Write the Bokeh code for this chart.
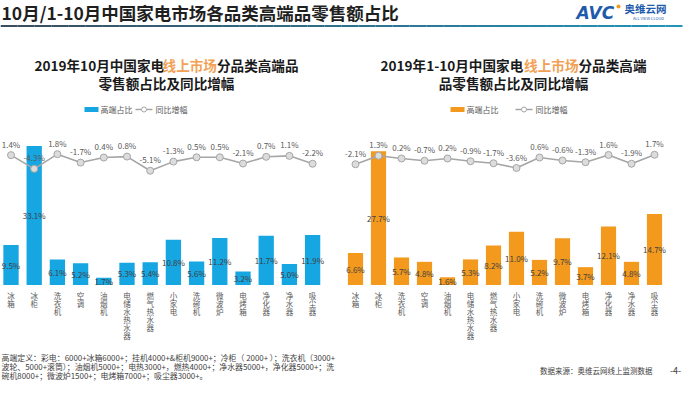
from bokeh.plotting import figure
from bokeh.models import Range1d
from bokeh.core.properties import value
from bokeh.embed import file_html
from bokeh.resources import INLINE

# ---------------- data ----------------
categories = ["冰箱", "冰柜", "洗衣机", "空调", "油烟机", "电储水热水器", "燃气热水器",
              "小家电", "洗碗机", "微波炉", "电烤箱", "净化器", "净水器", "吸尘器"]
oct_share = [9.5, 33.1, 6.1, 5.2, 1.7, 5.3, 5.4, 10.8, 5.6, 11.2, 3.2, 11.7, 5.0, 11.9]
oct_growth = [1.4, -4.3, 1.8, -1.7, 0.4, 0.8, -5.1, -1.3, 0.5, 0.5, -2.1, 0.7, 1.1, -2.2]
ytd_share = [6.6, 27.7, 5.7, 4.8, 1.6, 5.3, 8.2, 11.0, 5.2, 9.7, 3.7, 12.1, 4.8, 14.7]
ytd_growth = [-2.1, 1.3, 0.2, -0.7, 0.2, -0.9, -1.7, -3.6, 0.6, -0.6, -1.3, 1.6, -1.9, 1.7]

main_title = "10月/1-10月中国家电市场各品类高端品零售额占比"
left_title = [["2019年10月中国家电", "线上市场", "分品类高端品"], ["零售额占比及同比增幅"]]
right_title = [["2019年1-10月中国家电", "线上市场", "分品类高端"], ["品零售额占比及同比增幅"]]
legend_bar = "高端占比"
legend_line = "同比增幅"
footer_lines = [
    "高端定义：彩电：6000+冰箱6000+；挂机4000+&柜机9000+；冷柜（ 2000+ ）；洗衣机（3000+",
    "波轮、5000+滚筒）；油烟机5000+；电热3000+，燃热4000+；净水器5000+，净化器5000+；洗",
    "碗机8000+；微波炉1500+；电烤箱7000+；吸尘器3000+。",
]
source_text = "数据来源：奥维云网线上监测数据"
page_text = "-4-"

# ---------------- styles ----------------
FONT = value("Noto Sans CJK SC")
BLUE = "#16A6E2"
ORANGE = "#F39A1E"
HILITE = "#F2A154"
LINE_C = "#A6A6A6"
MARK_F = "#DCDCDC"

W, H = 684, 381
X0, Y0 = 8, 8          # page offset of the canvas
X1, Y1 = X0 + W, Y0 + H

p = figure(width=W, height=H, output_backend="svg", toolbar_location=None,
           x_range=Range1d(X0, X1), y_range=Range1d(Y1, Y0),
           min_border=0, outline_line_color=None, background_fill_color="white")
p.axis.visible = False
p.grid.visible = False


def x_range_for(px0, step):
    return Range1d((X0 - px0) / step, (X1 - px0) / step)


def y_range_for(py0, k):
    return Range1d((py0 - Y1) / k, (py0 - Y0) / k)


panels = [
    dict(name="L", px0=18.5, step=23.2, bar_py0=292.5, bar_k=4.2, line_py0=166.0, line_k=2.4,
         share=oct_share, growth=oct_growth, color=BLUE, title=left_title, tcx=174,
         leg_x=92),
    dict(name="R", px0=363.0, step=23.0, bar_py0=292.5, bar_k=4.83, line_py0=166.5, line_k=2.5,
         share=ytd_share, growth=ytd_growth, color=ORANGE, title=right_title, tcx=521,
         leg_x=458),
]

idx = list(range(len(categories)))

for pn in panels:
    xr = pn["name"] + "x"
    yb = pn["name"] + "b"
    yl = pn["name"] + "l"
    p.extra_x_ranges[xr] = x_range_for(pn["px0"], pn["step"])
    p.extra_y_ranges[yb] = y_range_for(pn["bar_py0"], pn["bar_k"])
    p.extra_y_ranges[yl] = y_range_for(pn["line_py0"], pn["line_k"])

    # bars
    p.vbar(x=idx, top=pn["share"], bottom=0, width=0.66, fill_color=pn["color"],
           line_color=None, x_range_name=xr, y_range_name=yb)
    # bar labels (centre of bar)
    p.text(x=idx, y=[v / 2 for v in pn["share"]], text=[f"{v:.1f}%" for v in pn["share"]],
           text_font=FONT, text_font_size="8px", text_color="#404040",
           text_align="center", text_baseline="middle", x_range_name=xr, y_range_name=yb)
    # growth line
    p.line(x=idx, y=pn["growth"], line_color=LINE_C, line_width=1.6,
           x_range_name=xr, y_range_name=yl)
    p.scatter(x=idx, y=pn["growth"], marker="circle", size=7, fill_color=MARK_F,
              line_color=LINE_C, line_width=1, x_range_name=xr, y_range_name=yl)
    lab_off = 11.0 / pn["line_k"]
    p.text(x=idx, y=[g + lab_off for g in pn["growth"]],
           text=[f"{g:.1f}%" for g in pn["growth"]],
           text_font=FONT, text_font_size="8px", text_color="#595959",
           text_align="center", text_baseline="middle", x_range_name=xr, y_range_name=yl)

    # category labels, stacked vertically
    cx, cy, ct = [], [], []
    for i, name in enumerate(categories):
        for k, ch in enumerate(name):
            cx.append(i)
            cy.append(303 + 8 * k)
            ct.append(ch)
    p.text(x=cx, y=cy, text=ct, text_font=FONT, text_font_size="7.5px",
           text_color="#595959", text_align="center", text_baseline="middle",
           x_range_name=xr)

    # title (two lines, middle part highlighted on first line)
    for li, parts in enumerate(pn["title"]):
        ty = 72 + 18 * li
        fs = 13.6

        def wid(s):
            return sum(0.57 if ord(c) < 128 else 1.0 for c in s) * fs
        total = sum(wid(s) for s in parts)
        x = pn["tcx"] - total / 2
        for j, s in enumerate(parts):
            col = HILITE if (li == 0 and j == 1) else "#1A1A1A"
            p.text(x=[x], y=[ty], text=[s], text_font=FONT, text_font_size=f"{fs}px",
                   text_font_style="bold", text_color=col, text_align="left",
                   text_baseline="middle")
            x += wid(s)

    # legend
    lx = pn["leg_x"]
    p.rect(x=[lx + 7], y=[117], width=14, height=5, fill_color=pn["color"], line_color=None)
    p.text(x=[lx + 16], y=[117], text=[legend_bar], text_font=FONT, text_font_size="8px",
           text_color="#595959", text_align="left", text_baseline="middle")
    lx2 = lx + (51 if pn["name"] == "L" else 65)
    p.line(x=[lx2, lx2 + 17], y=[117, 117], line_color=LINE_C, line_width=1.5)
    p.scatter(x=[lx2 + 8.5], y=[117], marker="circle", size=5, fill_color="white",
              line_color=LINE_C)
    p.text(x=[lx2 + 20], y=[117], text=[legend_line], text_font=FONT, text_font_size="8px",
           text_color="#595959", text_align="left", text_baseline="middle")

# ---------------- header ----------------
p.text(x=[9], y=[20], text=[main_title], text_font=FONT, text_font_size="17.5px",
       text_font_style="bold", text_color="#1F1F1F", text_align="left", text_baseline="middle")

# gradient underline
n = 40
c0 = (0x3A, 0x4E, 0x5E)
c1 = (0x24, 0x93, 0xB8)
xs0, xs1 = 8, 690
for i in range(n):
    t = i / (n - 1)
    col = "#%02x%02x%02x" % tuple(int(a + (b - a) * t) for a, b in zip(c0, c1))
    xa = xs0 + (xs1 - xs0) * i / n
    xb = xs0 + (xs1 - xs0) * (i + 1) / n
    p.line(x=[xa, xb], y=[33.5, 33.5], line_color=col, line_width=2)

# logo
p.text(x=[584], y=[20], text=["AVC"], text_font=value("DejaVu Sans"), text_font_size="17px",
       text_font_style="bold italic", text_color="#1E5BAA", text_align="left",
       text_baseline="middle")
p.scatter(x=[626], y=[14], marker="circle", size=4, fill_color="#F39A1E", line_color=None)
p.text(x=[632], y=[16], text=["奥维云网"], text_font=FONT, text_font_size="10.5px",
       text_font_style="bold", text_color="#1E5BAA", text_align="left", text_baseline="middle")
p.text(x=[656], y=[25], text=["ALL VIEW CLOUD"], text_font=FONT, text_font_size="4px",
       text_color="#1E5BAA", text_align="center", text_baseline="middle")

# ---------------- footer ----------------
for i, line in enumerate(footer_lines):
    p.text(x=[9], y=[365 + 9 * i], text=[line], text_font=FONT, text_font_size="7.9px",
           text_color="#404040", text_align="left", text_baseline="middle")
p.text(x=[660], y=[378], text=[source_text], text_font=FONT, text_font_size="7.5px",
       text_color="#404040", text_align="right", text_baseline="middle")
p.text(x=[683], y=[378], text=[page_text], text_font=FONT, text_font_size="9px",
       text_color="#404040", text_align="center", text_baseline="middle")

open("out.html", "w").write(file_html(p, INLINE))
